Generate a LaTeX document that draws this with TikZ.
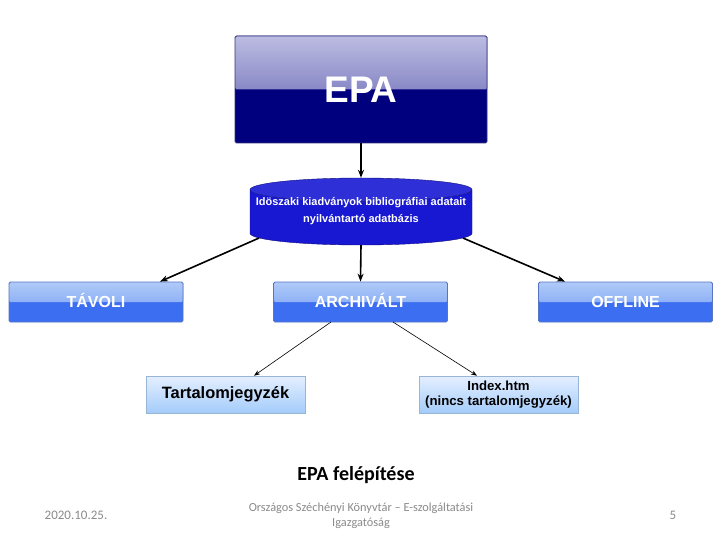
\documentclass[tikz,border=0pt]{standalone}
\usepackage{fontspec}
\setmainfont{Liberation Sans}
\newfontfamily\calibri{Carlito}
\usetikzlibrary{arrows.meta}
\usetikzlibrary{shapes.geometric}
\definecolor{navy}{HTML}{00007F}
\definecolor{lavender}{HTML}{BCBCE2}
\definecolor{midnavy}{HTML}{5656AC}
\definecolor{dbblue}{HTML}{1818D2}
\definecolor{boxblue}{HTML}{3C6EF2}
\definecolor{boxtop}{HTML}{B0CAF8}
\definecolor{boxmid}{HTML}{6E9AF4}
\definecolor{pale}{HTML}{E4EFFF}
\definecolor{palebot}{HTML}{A4CCFA}
\definecolor{footgray}{HTML}{8A8A8A}
\tikzset{
    glossy/.style args={#1/#2/#3}{
        draw=#3!60!gray, line width=0.8pt, fill=#3, rounded corners=1.5pt,
        path picture={
            \fill[top color=#1, bottom color=#2]
                (path picture bounding box.north west) rectangle (path picture bounding box.east);
        }
    },
    epabox/.style={glossy=lavender/midnavy/navy, minimum width=252pt, minimum height=107pt,
        text=white, font=\fontsize{37}{40}\selectfont\bfseries, text height=27pt, text depth=0pt},
    kindbox/.style={glossy=boxtop/boxmid/boxblue, minimum width=174pt, minimum height=40pt,
        text=white, font=\fontsize{16}{18}\selectfont\bfseries, text height=11.5pt, text depth=0pt},
    filebox/.style={draw=palebot!70!gray, line width=0.6pt, top color=pale, bottom color=palebot,
        minimum width=159pt, minimum height=37pt, align=center},
    bigarrow/.style={-{Stealth[length=8pt,width=6pt]}, line width=1.6pt},
    thinarrow/.style={-{Stealth[length=6pt,width=4.5pt]}, line width=0.6pt}
}

\begin{document}
\begin{tikzpicture}[x=1pt,y=-1pt]
	\useasboundingbox[fill=white] (0,0) rectangle (720,540);

	\node[epabox] (epa) at (361,89.5) {EPA};
	\node[cylinder, shape border rotate=90, aspect=0.11, draw=dbblue!60!black,
		cylinder uses custom fill, cylinder body fill=dbblue, cylinder end fill=dbblue!90!white,
		minimum width=222pt, minimum height=67pt, inner sep=1pt, text=white,
		font=\fontsize{11}{17}\selectfont\bfseries, anchor=shape center] (db) at (361,211.5)
		{\raisebox{4.5pt}[0pt][0pt]{\begin{tabular}{@{}c@{}}Idöszaki kiadványok bibliográfiai adatait\\
		nyilvántartó adatbázis\end{tabular}}};

	\node[kindbox] (tav) at (96,302) {TÁVOLI};
	\node[kindbox] (arch) at (360.5,302) {ARCHIVÁLT};
	\node[kindbox] (off) at (625.5,302) {OFFLINE};

	\node[filebox, font=\fontsize{16.4}{18}\selectfont\bfseries] (toc) at (225.5,394.5) {Tartalomjegyzék};
	\node[filebox, font=\fontsize{13.2}{15}\selectfont\bfseries] (idx) at (498.5,394.5)
		{Index.htm\\(nincs tartalomjegyzék)};

	\draw[bigarrow] (epa.south) -- (db.north);
	\draw[bigarrow] (db.south) -- (arch.north);
	\draw[bigarrow] (db.191) -- (tav.north -| 160,0);
	\draw[bigarrow] (db.-11) -- (off.north -| 565,0);

	\coordinate (a1) at (331,322);
	\coordinate (a2) at (393,322);
	\draw[thinarrow] (a1) -- (toc.north -| 254,0);
	\draw[thinarrow] (a2) -- (idx.north -| 477,0);

	\node[font=\calibri\fontsize{20}{22}\selectfont\bfseries] (cap) at (356,475) {EPA felépítése};
	\node[font=\calibri\fontsize{13}{15}\selectfont, text=footgray] (date) at (76,515) {2020.10.25.};
	\node[font=\calibri\fontsize{12.3}{15}\selectfont, text=footgray, align=center] (org) at (361,516)
		{Országos Széchényi Könyvtár – E-szolgáltatási\\Igazgatóság};
	\node[font=\calibri\fontsize{13}{15}\selectfont, text=footgray] (page) at (673,515) {5};
\end{tikzpicture}
\end{document}
